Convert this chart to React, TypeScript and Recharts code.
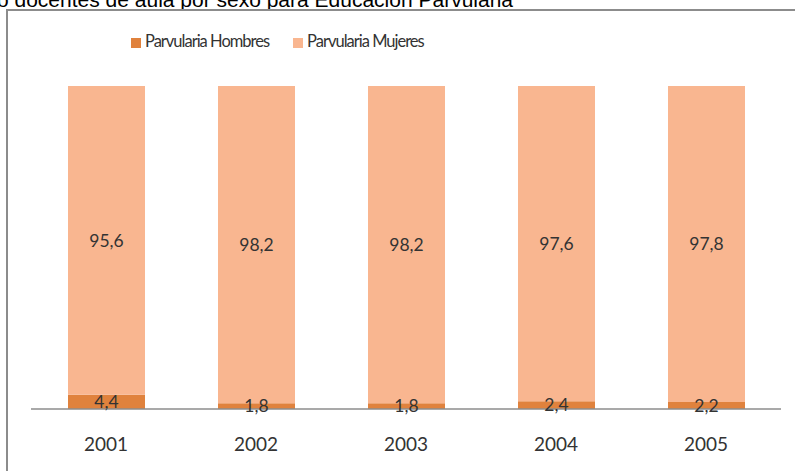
import { BarChart, Bar, XAxis, YAxis, Legend, LabelList } from "recharts";

const years = ["2001", "2002", "2003", "2004", "2005"];
const hombres = [4.4, 1.8, 1.8, 2.4, 2.2];
const mujeres = [95.6, 98.2, 98.2, 97.6, 97.8];

const data = years.map((year, i) => ({ year, hombres: hombres[i], mujeres: mujeres[i] }));

const fmt = (v: any) => String(v).replace(".", ",");
const font = "Lato, 'Open Sans', sans-serif";

export default function App() {
  return (
    <div style={{ position: "fixed", left: 0, top: 0, width: 795, height: 471, overflow: "hidden", background: "#fff" }}>
      <div style={{ position: "absolute", left: 0, top: 0 }}>
        <BarChart
          width={795}
          height={471}
          data={data}
          margin={{ top: 66, right: 14, left: 31, bottom: 22 }}
          style={{ fontFamily: font }}
        >
          <XAxis
            dataKey="year"
            axisLine={{ stroke: "#8c8c8c", strokeWidth: 1.5 }}
            tickLine={false}
            height={40}
            tick={{ fill: "#333", fontSize: 19, dy: 21 }}
          />
          <YAxis hide domain={[0, 100]} />
          <Legend
            verticalAlign="top"
            align="left"
            iconType="square"
            iconSize={10}
            wrapperStyle={{ top: 31, left: 131, width: "auto", fontSize: 16.5, letterSpacing: -1 }}
            formatter={(value) => <span style={{ color: "#333", marginRight: 14 }}>{value}</span>}
          />
          <Bar dataKey="hombres" name="Parvularia Hombres" stackId="a" fill="#E0823D" barSize={77} isAnimationActive={false}>
            <LabelList dataKey="hombres" position="center" formatter={fmt} fill="#333" fontSize={17.5} />
          </Bar>
          <Bar dataKey="mujeres" name="Parvularia Mujeres" stackId="a" fill="#F9B690" barSize={77} isAnimationActive={false}>
            <LabelList dataKey="mujeres" position="center" formatter={fmt} fill="#333" fontSize={17.5} />
          </Bar>
        </BarChart>
      </div>
      <div
        style={{
          position: "absolute",
          left: -3,
          top: -11,
          zIndex: 5,
          fontFamily: "'Liberation Sans', Arial, sans-serif",
          fontSize: 21,
          lineHeight: "21px",
          color: "#000",
          whiteSpace: "nowrap",
        }}
      >
        o docentes de aula por sexo para Educación Parvularia
      </div>
      {/* chart frame: only the top and left edges fall inside the picture */}
      <div style={{ position: "absolute", zIndex: 5, left: 6, top: 9, width: 2, height: 470, background: "#8c8c8c" }} />
      <div style={{ position: "absolute", zIndex: 5, left: 6, top: 9, width: 800, height: 2, background: "#8c8c8c" }} />
    </div>
  );
}
